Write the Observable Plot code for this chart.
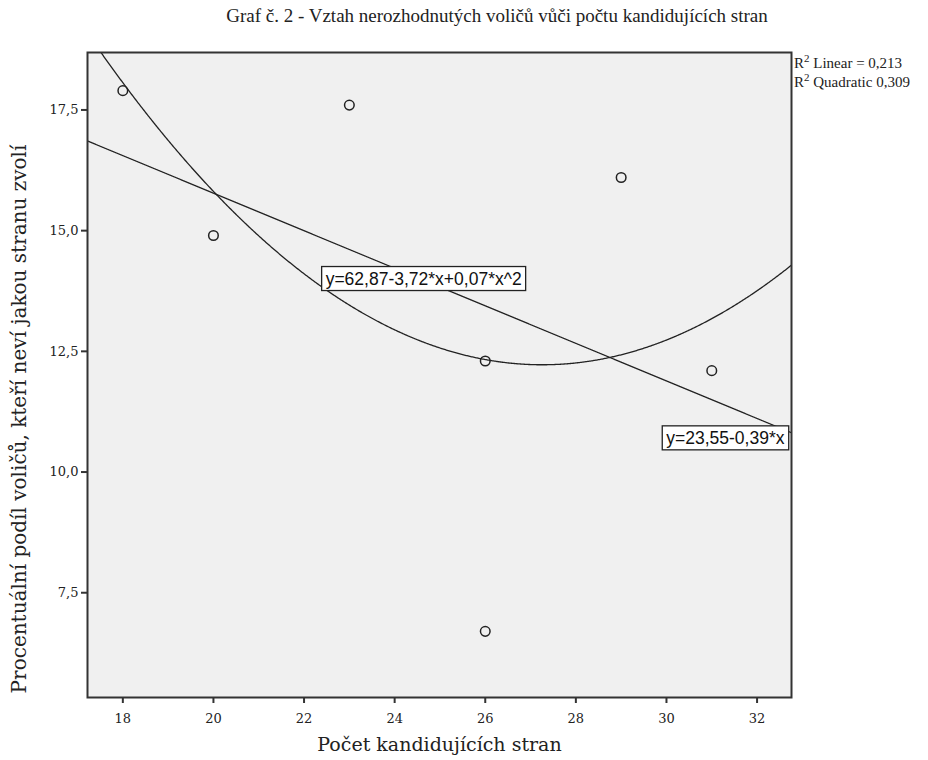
<!DOCTYPE html>
<html><head><meta charset="utf-8">
<script src="https://cdn.jsdelivr.net/npm/d3@7"></script>
<script src="https://cdn.jsdelivr.net/npm/@observablehq/plot@0.6"></script>
<style>
body{margin:0;background:#fff}
#chart svg{font-family:"Liberation Serif",serif;}
g[aria-label="x-axis label"] text{font-size:19px;font-family:"DejaVu Serif",serif;}
</style>
</head><body><div id="chart"></div>
<script>
// Data
const parties = [18, 20, 23, 26, 26, 29, 31];
const undecided = [17.9, 14.9, 17.6, 12.3, 6.7, 16.1, 12.1];
const xTicks = [18, 20, 22, 24, 26, 28, 30, 32];
const yTicks = [7.5, 10, 12.5, 15, 17.5];
const equationLabels = ["y=62,87-3,72*x+0,07*x^2", "y=23,55-0,39*x"];
const equationX = [24.64, 31.3];
const equationY = [14.0, 10.7];
const legendNames = ["Linear = 0,213", "Quadratic 0,309"];
const titleText = "Graf č. 2 - Vztah nerozhodnutých voličů vůči počtu kandidujících stran";
const xLabel = "Počet kandidujících stran";
const yLabel = "Procentuální podíl voličů, kteří neví jakou stranu zvolí";

const xDomain = [17.22, 32.76];
const yDomain = [5.33, 18.69];

const points = parties.map((x, i) => ({x, y: undecided[i]}));

// Least-squares fits computed from the data
const n = parties.length;
const mx = d3.mean(parties), my = d3.mean(undecided);
const slope = d3.sum(points, p => (p.x - mx) * (p.y - my)) / d3.sum(points, p => (p.x - mx) ** 2);
const intercept = my - slope * mx;

function solve3(A, b) {
  const M = A.map((r, i) => [...r, b[i]]);
  for (let i = 0; i < 3; i++) {
    let p = i;
    for (let k = i + 1; k < 3; k++) if (Math.abs(M[k][i]) > Math.abs(M[p][i])) p = k;
    [M[i], M[p]] = [M[p], M[i]];
    for (let k = i + 1; k < 3; k++) {
      const f = M[k][i] / M[i][i];
      for (let j = i; j < 4; j++) M[k][j] -= f * M[i][j];
    }
  }
  const s = [0, 0, 0];
  for (let i = 2; i >= 0; i--) {
    let v = M[i][3];
    for (let j = i + 1; j < 3; j++) v -= M[i][j] * s[j];
    s[i] = v / M[i][i];
  }
  return s;
}
const S = k => d3.sum(parties, x => x ** k);
const T = k => d3.sum(points, p => p.x ** k * p.y);
const [c0, c1, c2] = solve3(
  [[n, S(1), S(2)], [S(1), S(2), S(3)], [S(2), S(3), S(4)]],
  [T(0), T(1), T(2)]
);

const grid = d3.range(xDomain[0], xDomain[1] + 0.001, 0.02);
const linFit = grid.map(x => ({x, y: intercept + slope * x}));
const quadFit = grid.map(x => ({x, y: c0 + c1 * x + c2 * x * x}));
const labels = equationLabels.map((t, i) => ({t, x: equationX[i], y: equationY[i]}));

const fmt = d => d3.format(".1f")(d).replace(".", ",");

const chart = Plot.plot({
  width: 928,
  height: 760,
  marginTop: 52,
  marginBottom: 63,
  marginLeft: 87,
  marginRight: 137,
  style: {background: "#fff", fontFamily: "DejaVu Serif, serif", fontSize: "13px", color: "#222"},
  x: {domain: xDomain},
  y: {domain: yDomain},
  marks: [
    Plot.frame({fill: "#f0f0f0", stroke: null}),
    Plot.line(quadFit, {x: "x", y: "y", stroke: "#222", strokeWidth: 1.3, clip: true}),
    Plot.line(linFit, {x: "x", y: "y", stroke: "#222", strokeWidth: 1.3, clip: true}),
    Plot.dot(points, {x: "x", y: "y", r: 4.8, stroke: "#222", strokeWidth: 1.5, fill: "none"}),
    Plot.text(labels, {x: "x", y: "y", text: "t", fontFamily: "Liberation Sans, Arial, sans-serif", fontSize: 17.5, fill: "#111", className: "eqlab"}),
    Plot.axisX({ticks: xTicks, tickSize: 6, tickPadding: 10, tickFormat: d => String(d), label: xLabel, labelAnchor: "center", labelArrow: "none", labelOffset: 53, fontSize: 13, stroke: "#333", strokeWidth: 2}),
    Plot.axisY({ticks: yTicks, tickSize: 6, tickPadding: 3, tickFormat: fmt, label: null, fontSize: 13, stroke: "#333", strokeWidth: 2}),
    Plot.frame({stroke: "#333", strokeWidth: 2})
  ]
});
document.getElementById("chart").appendChild(chart);

const svg = d3.select(chart);
// white boxes behind equation labels
svg.selectAll("g.eqlab text").each(function() {
  const bb = this.getBBox();
  d3.select(this.parentNode).insert("rect", () => this)
    .attr("x", bb.x - 4).attr("y", bb.y - 2)
    .attr("width", bb.width + 8).attr("height", bb.height + 4)
    .attr("fill", "#fff").attr("stroke", "#222").attr("stroke-width", 1.3)
    .attr("transform", this.getAttribute("transform"));
});

svg.append("text")
  .attr("x", 497).attr("y", 22)
  .attr("text-anchor", "middle")
  .attr("font-family", "Liberation Serif, serif")
  .attr("font-size", 19)
  .attr("fill", "#222")
  .text(titleText);

svg.append("text")
  .attr("transform", "translate(26,419) rotate(-90)")
  .attr("text-anchor", "middle")
  .attr("font-family", "DejaVu Serif, serif")
  .attr("font-size", 20)
  .attr("fill", "#222")
  .text(yLabel);

const leg = svg.append("g").selectAll("text").data(legendNames).join("text")
  .attr("x", 794).attr("y", (d, i) => 68 + i * 19)
  .attr("text-anchor", "start")
  .attr("font-family", "Liberation Serif, serif")
  .attr("font-size", 15)
  .attr("fill", "#222");
leg.append("tspan").text("R");
leg.append("tspan").attr("dy", -6).attr("font-size", 11).text("2");
leg.append("tspan").attr("dy", 6).text(d => " " + d);
</script>
</body></html>
